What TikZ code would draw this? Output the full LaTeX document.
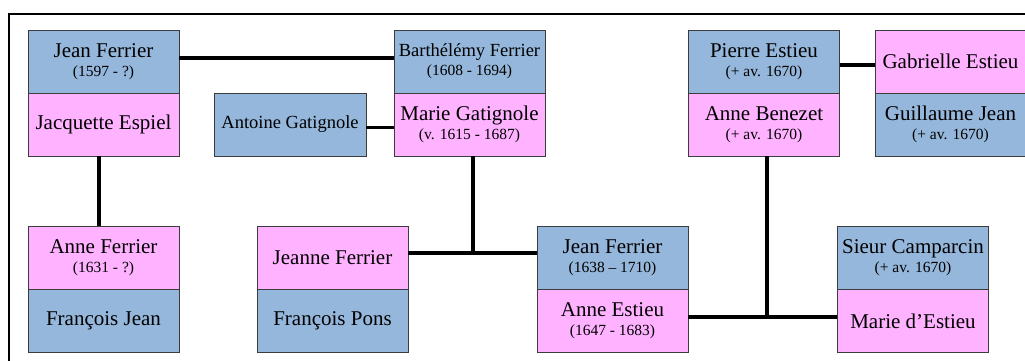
\documentclass[tikz,border=0pt]{standalone}
\usepackage{fontspec}
\setmainfont{Liberation Serif}
\definecolor{mblue}{RGB}{149,183,219}
\definecolor{fpink}{RGB}{255,178,255}
\definecolor{bord}{RGB}{60,60,60}
\tikzset{
  person/.style={draw=bord, line width=0.8pt, minimum width=151pt, minimum height=63pt, inner sep=0pt, align=center, font=\fontsize{21}{20}\selectfont},
  male/.style={person, fill=mblue},
  female/.style={person, fill=fpink},
  link/.style={line width=3.5pt},
  frame/.style={line width=2.5pt}
}
\newcommand{\dt}[1]{{\fontsize{15.5}{17}\selectfont #1}}
\newcommand{\sm}[1]{{\fontsize{18.5}{20}\selectfont #1}}
\begin{document}
\begin{tikzpicture}[x=1pt,y=-1pt]
\useasboundingbox (0,0) rectangle (1025,361);
\clip (0,0) rectangle (1025,361);
\draw[frame] (9,400) -- (9,14) -- (1100,14);
% top row
\node[male] (jf) at (103.5,61.5) {Jean Ferrier\\[-1pt]\dt{(1597 - ?)}};
\node[female] (je) at (103.5,124.5) {Jacquette Espiel};
\node[male, minimum width=152pt] (ag) at (290,124.5) {\sm{Antoine Gatignole}};
\node[male] (bf) at (469.5,61.5) {\sm{Barthélémy Ferrier}\\[-1pt]\dt{(1608 - 1694)}};
\node[female] (mg) at (469.5,124.5) {Marie Gatignole\\[-1pt]\dt{(v. 1615 - 1687)}};
\node[male] (pe) at (764,61.5) {Pierre Estieu\\[-1pt]\dt{(+ av. 1670)}};
\node[female] (ab) at (764,124.5) {Anne Benezet\\[-1pt]\dt{(+ av. 1670)}};
\node[female] (ge) at (950.5,61.5) {Gabrielle Estieu};
\node[male] (gj) at (950.5,124.5) {Guillaume Jean\\[-1pt]\dt{(+ av. 1670)}};
% bottom row
\node[female] (af) at (103.5,258) {Anne Ferrier\\[-1pt]\dt{(1631 - ?)}};
\node[male] (fj) at (103.5,321) {François Jean};
\node[female] (jnf) at (332.5,258) {Jeanne Ferrier};
\node[male] (fp) at (332.5,321) {François Pons};
\node[male] (jf2) at (612.5,258) {Jean Ferrier\\[-1pt]\dt{(1638 – 1710)}};
\node[female] (ae) at (612.5,321) {Anne Estieu\\[-1pt]\dt{(1647 - 1683)}};
\node[male] (sc) at (913,258) {Sieur Camparcin\\[-1pt]\dt{(+ av. 1670)}};
\node[female] (me) at (913,321) {Marie d’Estieu};
% connectors
\coordinate (j1) at (473,253);
\coordinate (j2) at (767,317);
\draw[link] ([yshift=3.5pt]jf.east) -- ([yshift=3.5pt]bf.west);
\draw[link] ([yshift=-3pt]ag.east) -- ([yshift=-3pt]mg.west);
\draw[link] ([yshift=-3.5pt]pe.east) -- ([yshift=-3.5pt]ge.west);
\draw[link] ([xshift=-4.5pt]je.south) -- ([xshift=-4.5pt]af.north);
\draw[link] ([xshift=3.5pt]mg.south) -- (j1);
\draw[link] ([yshift=5pt]jnf.east) -- ([yshift=5pt]jf2.west);
\draw[link] ([xshift=3pt]ab.south) -- (j2);
\draw[link] ([yshift=4pt]ae.east) -- ([yshift=4pt]me.west);
\end{tikzpicture}
\end{document}
